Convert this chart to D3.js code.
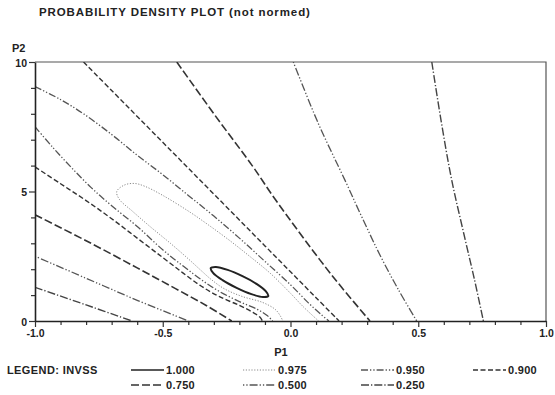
<!DOCTYPE html>
<html><head><meta charset="utf-8">
<script src="https://cdn.jsdelivr.net/npm/d3@7/dist/d3.min.js"></script>
<style>
html,body{margin:0;padding:0;background:#fff;}
text{font-family:"Liberation Sans",Arial,sans-serif;font-weight:bold;fill:#222;}
</style></head>
<body>
<script>
// ---------- data (P1, P2) ----------
const title = "PROBABILITY DENSITY PLOT (not normed)";
const xLabel = "P1", yLabel = "P2";
const xMajorTicks = [-1, -0.5, 0, 0.5, 1];
const xTickLabels = ["-1.0", "-0.5", "0.0", "0.5", "1.0"];
const yMajorTicks = [0, 5, 10];
const yTickLabels = ["0", "5", "10"];
const xMinorTicks = [-0.9,-0.8,-0.7,-0.6,-0.4,-0.3,-0.2,-0.1,0.1,0.2,0.3,0.4,0.6,0.7,0.8,0.9];
const yMinorTicks = [1,2,3,4,6,7,8,9];

const levels = ["1.000","0.975","0.950","0.900","0.750","0.500","0.250"];

// contour INVSS = 1.000 (closed)
const c1000 = [[-0.087,0.965],[-0.108,0.927],[-0.153,1.039],[-0.211,1.282],[-0.266,1.579],[-0.303,1.861],
  [-0.312,2.046],[-0.292,2.085],[-0.246,1.973],[-0.188,1.730],[-0.133,1.432],[-0.097,1.151]];
// contour 0.975 (U shape, open at bottom)
const c975 = [[[0.11,0],[0.05,0.55],[0.0,1.07],[-0.08,1.85],[-0.16,2.5],[-0.237,3.1],[-0.32,3.7],[-0.393,4.2],
  [-0.5,4.85],[-0.57,5.2],[-0.61,5.31],[-0.65,5.25],[-0.68,5.0],[-0.67,4.7],[-0.62,4.25],[-0.55,3.65],
  [-0.47,3.0],[-0.40,2.4],[-0.35,1.95],[-0.31,1.6],[-0.26,1.25],[-0.19,0.95],[-0.11,0.72],[-0.06,0.45],
  [-0.04,0.2],[-0.03,0]]];
const c950 = [
  [[-1,7.5],[-0.93,6.7],[-0.86,5.95],[-0.78,5.15],[-0.7,4.45],[-0.6,3.65],[-0.5,2.75],[-0.42,2.12],
   [-0.35,1.6],[-0.28,1.15],[-0.2,0.75],[-0.13,0.45],[-0.09,0.2],[-0.07,0]],
  [[-1,9.05],[-0.9,8.55],[-0.81,8.0],[-0.7,7.2],[-0.6,6.4],[-0.5,5.65],[-0.4,4.85],[-0.3,4.05],
   [-0.2,3.2],[-0.1,2.3],[0.0,1.4],[0.07,0.7],[0.12,0.25],[0.15,0]]];
const c900 = [
  [[-1,5.95],[-0.9,5.3],[-0.8,4.65],[-0.7,3.95],[-0.6,3.2],[-0.5,2.45],[-0.42,1.85],[-0.35,1.35],
   [-0.28,0.95],[-0.2,0.6],[-0.15,0.35],[-0.12,0.15],[-0.11,0]],
  [[-0.81,10],[-0.7,8.9],[-0.6,7.9],[-0.5,6.9],[-0.4,5.9],[-0.3,4.9],[-0.2,3.9],[-0.1,2.9],
   [0.0,1.9],[0.1,0.9],[0.19,0]]];
const c750 = [
  [[-1,4.1],[-0.8,3.1],[-0.6,2.05],[-0.45,1.25],[-0.33,0.6],[-0.23,0]],
  [[-0.445,10],[-0.3,8.0],[-0.15,6.0],[-0.06,4.7],[0.115,2.36],[0.2,1.3],[0.311,0]]];
const c500 = [
  [[-1,2.5],[-0.8,1.65],[-0.6,0.8],[-0.4,0]],
  [[0.011,10],[0.11,7.6],[0.213,5.44],[0.28,4.0],[0.35,2.55],[0.42,1.25],[0.494,0]]];
const c250 = [
  [[-1,1.3],[-0.8,0.62],[-0.62,0]],
  [[0.553,10],[0.59,7.7],[0.631,5.44],[0.68,3.3],[0.72,1.6],[0.755,0]]];

// ---------- styles ----------
const styles = {
  "1.000": {dash: null, color: "#222", width: 2},
  "0.975": {dash: "1.2,1.6", color: "#8a8a8a", width: 1},
  "0.950": {dash: "7,2,1.3,2,1.3,2", color: "#555", width: 1.3},
  "0.900": {dash: "5,2.5", color: "#333", width: 1.4},
  "0.750": {dash: "8,3", color: "#333", width: 1.6},
  "0.500": {dash: "1.3,2,1.3,2,8,2", color: "#555", width: 1.3},
  "0.250": {dash: "8,2,1.3,2", color: "#444", width: 1.4}
};

const W = 555, H = 395;
const svg = d3.select("body").append("svg").attr("width", W).attr("height", H);
const x = d3.scaleLinear().domain([-1, 1]).range([35, 546]);
const y = d3.scaleLinear().domain([0, 10]).range([321, 62]);

svg.append("defs").append("clipPath").attr("id","clip")
  .append("rect").attr("x", x(-1)).attr("y", y(10)).attr("width", x(1)-x(-1)).attr("height", y(0)-y(10));

// frame (top, right)
svg.append("path").attr("d", `M${x(-1)},${y(10)}H${x(1)}V${y(0)}`)
  .attr("fill","none").attr("stroke","#555").attr("stroke-width",1.2);

// contours
const line = d3.line().x(d => x(d[0])).y(d => y(d[1])).curve(d3.curveCatmullRom.alpha(0.5));
const lineClosed = d3.line().x(d => x(d[0])).y(d => y(d[1])).curve(d3.curveCatmullRomClosed.alpha(0.5));
const g = svg.append("g").attr("clip-path","url(#clip)");
const contourSets = [["1.000",[c1000],true],["0.975",c975,false],["0.950",c950,false],["0.900",c900,false],
  ["0.750",c750,false],["0.500",c500,false],["0.250",c250,false]];
contourSets.forEach(([lev, segs, closed]) => {
  const s = styles[lev];
  segs.forEach(seg => {
    g.append("path").attr("d", closed ? lineClosed(seg) : line(seg))
      .attr("fill","none").attr("stroke", s.color).attr("stroke-width", s.width)
      .attr("stroke-dasharray", s.dash).attr("stroke-linejoin","round");
  });
});

// axes
const ax = svg.append("g").attr("transform", `translate(0,${y(0)})`);
ax.call(d3.axisBottom(x).tickValues(xMinorTicks).tickSize(4).tickFormat(""));
ax.call(g2 => g2.select(".domain").remove());
const axM = svg.append("g").attr("transform", `translate(0,${y(0)})`)
  .call(d3.axisBottom(x).tickValues(xMajorTicks).tickSize(6).tickSizeOuter(0)
    .tickFormat((d,i) => xTickLabels[i]));
const ay = svg.append("g").attr("transform", `translate(${x(-1)},0)`);
ay.call(d3.axisLeft(y).tickValues(yMinorTicks).tickSize(4).tickFormat(""));
ay.call(g2 => g2.select(".domain").remove());
const ayM = svg.append("g").attr("transform", `translate(${x(-1)},0)`)
  .call(d3.axisLeft(y).tickValues(yMajorTicks).tickSize(6).tickSizeOuter(0)
    .tickFormat((d,i) => yTickLabels[i]));
svg.selectAll(".domain").attr("stroke","#222").attr("stroke-width",1.6);
svg.selectAll(".tick line").attr("stroke","#333").attr("stroke-width",1.2);
axM.selectAll("text").attr("font-size",10.5).attr("font-family","Liberation Sans, Arial, sans-serif")
  .attr("font-weight","bold").attr("fill","#222").attr("dy","0.95em").attr("y",6);
ayM.selectAll("text").attr("font-size",10.5).attr("font-family","Liberation Sans, Arial, sans-serif")
  .attr("font-weight","bold").attr("fill","#222").attr("x",-8).attr("dy","0.38em");

// titles
svg.append("text").attr("x",39).attr("y",16).attr("font-size",11.5).attr("letter-spacing",0.9).text(title);
svg.append("text").attr("x",12).attr("y",52).attr("font-size",11).text(yLabel);
svg.append("text").attr("x",281).attr("y",356).attr("text-anchor","middle").attr("font-size",11).text(xLabel);

// legend
const legendItems = [
  {lev:"1.000", col:0, row:0},{lev:"0.975", col:1, row:0},{lev:"0.950", col:2, row:0},{lev:"0.900", col:3, row:0},
  {lev:"0.750", col:0, row:1},{lev:"0.500", col:1, row:1},{lev:"0.250", col:2, row:1}];
const colX = [131, 243, 361, 473];
const rowY = [374, 389];
svg.append("text").attr("x",7).attr("y",rowY[0]).attr("font-size",11).attr("letter-spacing",0.4).text("LEGEND:  INVSS");
legendItems.forEach(it => {
  const s = styles[it.lev];
  const lx = colX[it.col], ly = rowY[it.row] - 4;
  svg.append("line").attr("x1",lx).attr("x2",lx+33).attr("y1",ly).attr("y2",ly)
    .attr("stroke",s.color).attr("stroke-width",Math.min(s.width,1.4)).attr("stroke-dasharray",s.dash);
  svg.append("text").attr("x",lx+35).attr("y",rowY[it.row]).attr("font-size",11).attr("letter-spacing",0.3).text(it.lev);
});
</script>
</body></html>
